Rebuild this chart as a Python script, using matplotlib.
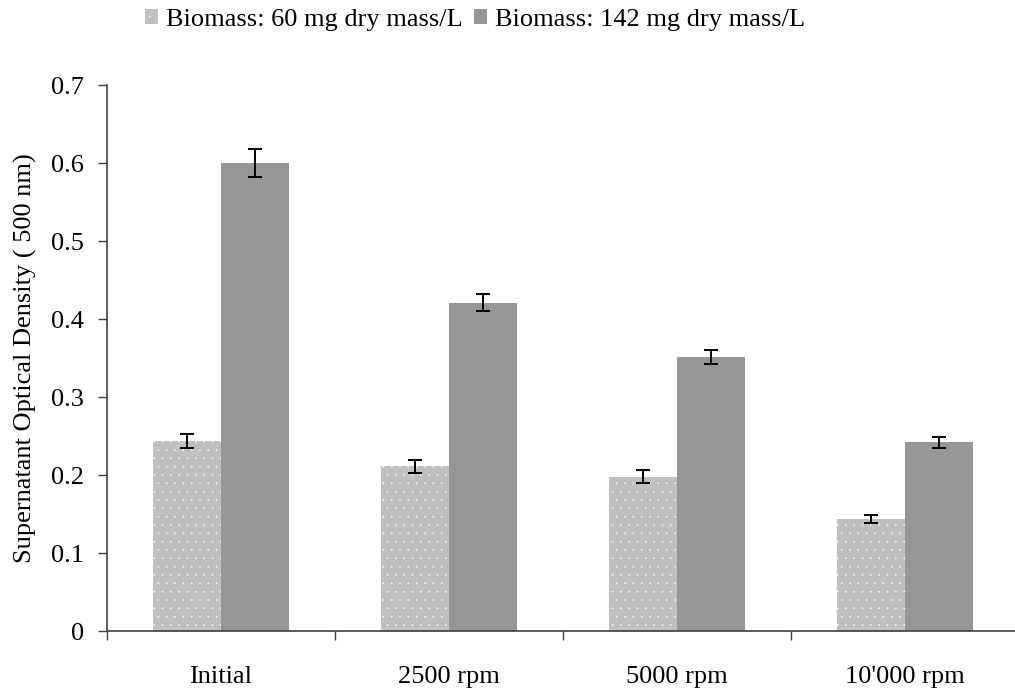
import matplotlib
matplotlib.use("Agg")
import matplotlib.pyplot as plt
import numpy as np

categories = ["Initial", "2500 rpm", "5000 rpm", "10'000 rpm"]
low_biomass = [0.243, 0.211, 0.198, 0.144]
low_err = [0.009, 0.008, 0.008, 0.005]
high_biomass = [0.600, 0.421, 0.351, 0.242]
high_err = [0.018, 0.011, 0.009, 0.007]
series_names = ["Biomass: 60 mg dry mass/L", "Biomass: 142 mg dry mass/L"]

plt.rcParams["font.family"] = ["Liberation Serif", "DejaVu Serif"]
plt.rcParams["hatch.linewidth"] = 0.0

fig = plt.figure(figsize=(10.15, 6.95), dpi=100)
ax = fig.add_axes([107 / 1015, 1 - 631 / 695, 1 - 107 / 1015, (631 - 85) / 695])

x = np.arange(len(categories))
w = 0.298
axis_col = "#404040"
fs = 19

ax.bar(x - w / 2, low_biomass, w, color="#c0c0c0", edgecolor="white",
       linewidth=0, hatch="..", label=series_names[0])
ax.bar(x + w / 2, high_biomass, w, color="#969696", linewidth=0,
       label=series_names[1])
ax.errorbar(x - w / 2, low_biomass, yerr=low_err, fmt="none", ecolor="black",
            elinewidth=1.4, capsize=4.8, capthick=1.4)
ax.errorbar(x + w / 2, high_biomass, yerr=high_err, fmt="none", ecolor="black",
            elinewidth=1.4, capsize=4.8, capthick=1.4)

ax.set_xlim(-0.5, 3.5 - 4 / 228)
ax.set_ylim(0, 0.7)
ax.set_yticks(np.arange(0, 0.71, 0.1))
ax.set_yticklabels(["0"] + ["%.1f" % v for v in np.arange(0.1, 0.71, 0.1)])

# category boundaries carry the ticks, labels sit at the centres
ax.set_xticks(np.arange(-0.5, 3.5, 1.0))
ax.set_xticklabels([])
ax.set_xticks(x, minor=True)
ax.set_xticklabels(categories, minor=True)
ax.tick_params(axis="x", which="major", direction="out", length=6.5, width=1,
               color=axis_col)
ax.tick_params(axis="x", which="minor", length=0, pad=25, labelsize=fs)
ax.tick_params(axis="y", direction="out", length=6.5, width=1, color=axis_col,
               labelsize=fs, pad=10)

for side in ["top", "right"]:
    ax.spines[side].set_visible(False)
for side in ["left", "bottom"]:
    ax.spines[side].set_color(axis_col)
    ax.spines[side].set_linewidth(1.2)

ax.set_ylabel("Supernatant Optical Density ( 500 nm)", fontsize=fs, labelpad=10)

fig.legend(loc="center", bbox_to_anchor=(475 / 1015, 1 - 20 / 695), ncol=2,
           frameon=False, fontsize=fs, handlelength=0.5, handleheight=0.5,
           handletextpad=0.3, columnspacing=0.45)

fig.savefig("out.png", dpi=100)
